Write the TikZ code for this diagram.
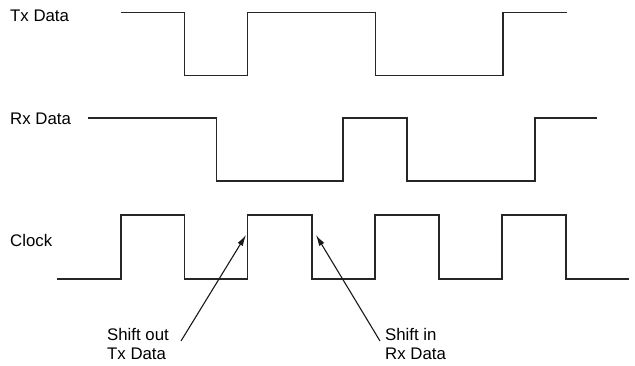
\documentclass[tikz,border=0pt]{standalone}
\usepackage{fontspec}
\setmainfont{Liberation Sans}
\usetikzlibrary{arrows.meta}
\begin{document}
\begin{tikzpicture}[x=1pt,y=-1pt,
  wave/.style={line width=1.3pt,color=black!85,line join=miter},
  lbl/.style={font=\fontsize{16.8}{18.5}\selectfont,inner sep=0pt,anchor=west,align=left},
  pointer/.style={line width=1.1pt,color=black!90,-{Latex[length=11pt,width=6pt]}}]
\useasboundingbox (0,0) rectangle (635,366);
% labels
\node[lbl] (tx) at (10,16) {Tx Data};
\node[lbl] (rx) at (10,119) {Rx Data};
\node[lbl] (clk) at (10,240) {Clock};
\node[lbl] (sout) at (107,344) {Shift out\\Tx Data};
\node[lbl] (sin) at (385,344) {Shift in\\Rx Data};
% waveforms
\draw[wave] (121,12.5) -| (184.5,75.5) -| (247.5,12.5) -| (375.5,75.5) -| (503,12.5) -- (567,12.5);
\draw[wave] (88,118) -| (216.5,181) -| (343,118) -| (407,181) -| (535,118) -- (597,118);
\draw[wave] (57,279) -| (121,215) -| (184.5,279) -| (247.5,215) -| (312,279) -| (375,215) -| (439,279) -| (502,215) -| (566,279) -- (629,279);
% arrows
\coordinate (t1) at (181,341);
\coordinate (h1) at (246,235);
\coordinate (t2) at (380,341);
\coordinate (h2) at (316,235);
\draw[pointer] (t1) -- (h1);
\draw[pointer] (t2) -- (h2);
\end{tikzpicture}
\end{document}
